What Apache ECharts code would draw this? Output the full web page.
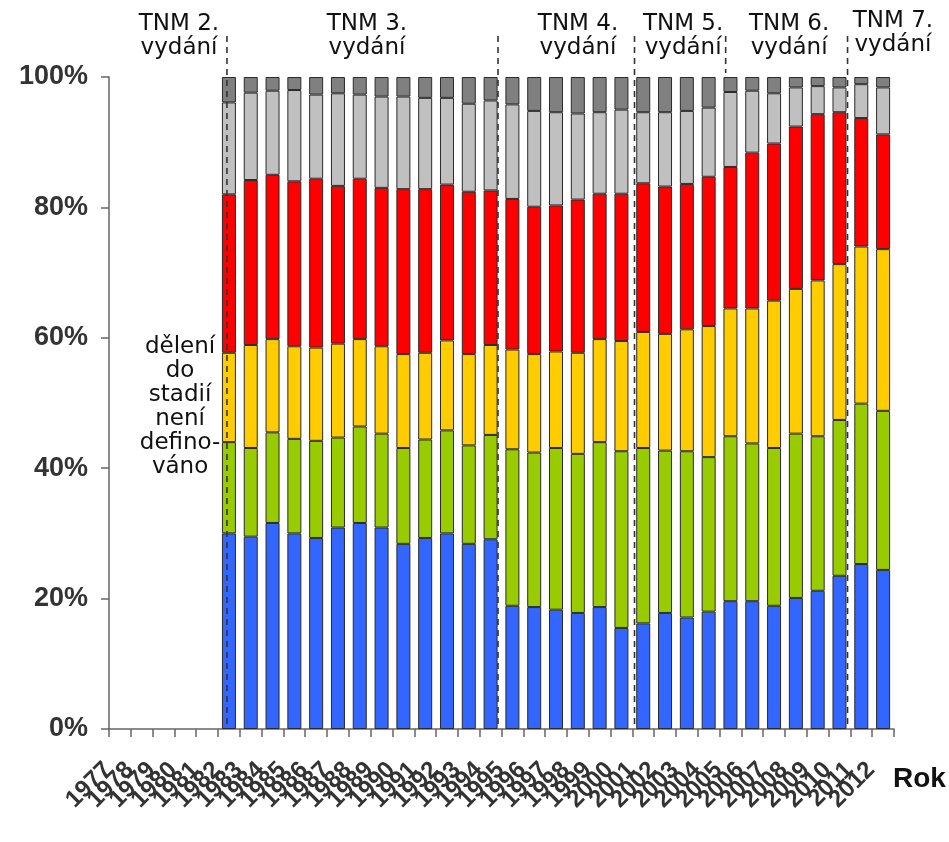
<!DOCTYPE html>
<html>
<head>
<meta charset="utf-8">
<script src="https://cdn.jsdelivr.net/npm/echarts@6/dist/echarts.min.js"></script>
<style>
html,body{margin:0;padding:0;background:#fff;}
#chart{width:949px;height:842px;}
</style>
</head>
<body>
<div id="chart"></div>
<script>
// ---- data ----
var years = ['1977','1978','1979','1980','1981','1982','1983','1984','1985','1986','1987','1988','1989','1990','1991','1992','1993','1994','1995','1996','1997','1998','1999','2000','2001','2002','2003','2004','2005','2006','2007','2008','2009','2010','2011','2012'];
var yTickLabels = ['0%','20%','40%','60%','80%','100%'];
var stageI   = [null,null,null,null,null, 30.0,29.5,31.6,30.0,29.3,30.9,31.6,30.9,28.4,29.3,30.0,28.4,29.1, 18.9,18.7,18.3,17.8,18.7,15.5, 16.2,17.8,17.1,18.0, 19.6,19.6,18.9,20.1,21.2,23.5, 25.3,24.4];
var stageII  = [null,null,null,null,null, 14.0,13.6,13.9,14.5,14.9,13.8,14.8,14.4,14.7,15.1,15.8,15.1,16.0, 24.0,23.7,24.8,24.4,25.3,27.1, 26.9,24.9,25.5,23.7, 25.3,24.2,24.2,25.2,23.7,23.9, 24.6,24.4];
var stageIII = [null,null,null,null,null, 13.7,15.8,14.3,14.2,14.3,14.4,13.4,13.4,14.4,13.3,13.8,14.0,13.8, 15.3,15.1,14.8,15.5,15.8,16.9, 17.8,17.9,18.7,20.1, 19.6,20.7,22.6,22.2,23.9,23.9, 24.1,24.8];
var stageIV  = [null,null,null,null,null, 24.3,25.3,25.2,25.3,25.9,24.2,24.6,24.3,25.3,25.1,23.9,24.9,23.7, 23.1,22.6,22.4,23.5,22.3,22.6, 22.8,22.6,22.3,22.9, 21.7,23.9,24.1,24.9,25.5,23.3, 19.7,17.6];
var stageX   = [null,null,null,null,null, 14.1,13.4,12.9,14.0,12.9,14.2,12.9,14.0,14.2,14.0,13.3,13.5,13.8, 14.5,14.7,14.3,13.2,12.5,12.9, 10.9,11.4,11.2,10.6, 11.5,9.5,7.7,6.0,4.3,3.8, 5.2,7.2];
var stageNA  = [null,null,null,null,null, 3.9,2.4,2.1,2.0,2.7,2.5,2.7,3.0,3.0,3.2,3.2,4.1,3.6, 4.2,5.2,5.4,5.6,5.4,5.0, 5.4,5.4,5.2,4.7, 2.3,2.1,2.5,1.6,1.4,1.6, 1.1,1.6];
var seriesNames  = ['I','II','III','IV','X','neuvedeno'];
var seriesColors = ['#3366FF','#99CC00','#FFCC00','#FF0000','#C0C0C0','#808080'];
// edition annotations (positions on a 0..36 category-unit scale)
var editionLabels = ['TNM 2.\nvydání','TNM 3.\nvydání','TNM 4.\nvydání','TNM 5.\nvydání','TNM 6.\nvydání','TNM 7.\nvydání'];
var editionLabelPos = [3.21, 11.83, 21.51, 26.33, 31.19, 35.95];
var editionBreaks = [5.41, 17.84, 24.1, 28.28, 33.87];
var breakFullHeight = [true, true, true, false, true];
var noteText = 'dělení\ndo\nstadií\nnení\ndefino-\nváno';

var chart = echarts.init(document.getElementById('chart'), null, {renderer:'canvas'});
var allData = [stageI, stageII, stageIII, stageIV, stageX, stageNA];
var series = allData.map(function(d, i){
  return {
    name: seriesNames[i], type:'bar', stack:'total', data:d,
    barWidth: 14,
    itemStyle:{color:seriesColors[i], borderColor:'#2a2a2a', borderWidth:1},
    emphasis:{disabled:true}
  };
});
chart.setOption({
  animation:false,
  grid:{left:109, right:55, top:77, bottom:113, containLabel:false},
  xAxis:[{
    type:'category', data:years, boundaryGap:true,
    axisLine:{lineStyle:{color:'#666', width:1.5}},
    axisTick:{show:true, length:8, lineStyle:{color:'#666', width:1.5}, alignWithLabel:false},
    axisLabel:{show:true, interval:0, rotate:45, margin:25, hideOverlap:false, color:'#333',
      formatter:function(v){ return '{y|' + v + '}'; },
      rich:{y:{fontFamily:'Liberation Sans, Arial, sans-serif', fontWeight:'bold', fontSize:24, color:'#333', padding:[0,17,0,0]}}}
  },{
    type:'value', min:0, max:36, show:false
  }],
  yAxis:{
    type:'value', min:0, max:100, interval:20,
    axisLine:{show:true, lineStyle:{color:'#666', width:1.5}},
    axisTick:{show:true, length:8, lineStyle:{color:'#666', width:1.5}},
    splitLine:{show:false},
    axisLabel:{margin:21, fontFamily:'Liberation Sans, Arial, sans-serif', fontWeight:'bold', fontSize:27, color:'#333',
      formatter:function(v){ return yTickLabels[Math.round(v/20)]; }}
  },
  series: series
});

// annotations positioned through the axes
var yTop = chart.convertToPixel({yAxisIndex:0}, 100);
var yBottom = chart.convertToPixel({yAxisIndex:0}, 0);
var graphics = [];
editionBreaks.forEach(function(v, i){
  var x = chart.convertToPixel({xAxisIndex:1}, v);
  graphics.push({type:'line', silent:true, z:100,
    shape:{x1:x, y1:yTop-41, x2:x, y2: breakFullHeight[i] ? yBottom : yTop-4},
    style:{stroke:'#333', lineWidth:1.6, lineDash:[6,5]}});
});
editionLabels.forEach(function(t, i){
  var x = chart.convertToPixel({xAxisIndex:1}, editionLabelPos[i]);
  graphics.push({type:'text', silent:true, z:100, x:x, y: (i===5 ? yTop-68 : yTop-65),
    style:{text:t, fill:'#111', font:'23px "DejaVu Sans"', align:'center', verticalAlign:'top', lineHeight:24}});
});
var noteX = chart.convertToPixel({xAxisIndex:1}, 3.26);
graphics.push({type:'text', silent:true, z:100, x:noteX, y: chart.convertToPixel({yAxisIndex:0}, 60.5),
  style:{text:noteText, fill:'#111', font:'23px "DejaVu Sans"', align:'center', verticalAlign:'top', lineHeight:24}});
graphics.push({type:'text', silent:true, z:100, x: chart.convertToPixel({xAxisIndex:1}, 36)-1, y: yBottom+36,
  style:{text:'Rok', fill:'#111', font:'bold 28px "Liberation Sans", Arial, sans-serif', align:'left', verticalAlign:'top'}});
chart.setOption({graphic: graphics});
</script>
</body>
</html>
